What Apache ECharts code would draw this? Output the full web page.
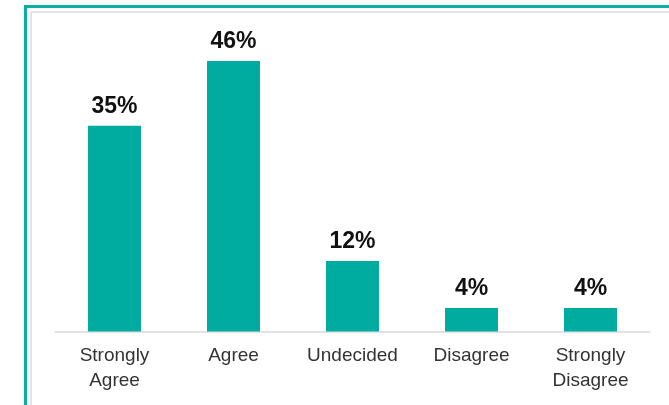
<!DOCTYPE html>
<html>
<head>
<meta charset="utf-8">
<script src="https://cdn.jsdelivr.net/npm/echarts@6/dist/echarts.min.js"></script>
<style>
  html, body { margin: 0; padding: 0; background: #fff; }
  #chart { width: 669px; height: 405px; }
</style>
</head>
<body>
<div id="chart"></div>
<script>
// Survey responses, share of respondents (%)
const categories = ['Strongly\nAgree', 'Agree', 'Undecided', 'Disagree', 'Strongly\nDisagree'];
const responseShares = [35, 46, 12, 4, 4];

const FONT = "'Liberation Sans', Arial, sans-serif";
const TEAL = '#00ab9f';

const chart = echarts.init(document.getElementById('chart'), null, { renderer: 'canvas' });

chart.setOption({
  backgroundColor: '#ffffff',
  animation: false,
  graphic: [
    {
      // outer teal frame
      type: 'rect',
      silent: true,
      shape: { x: 25.5, y: 6.5, width: 700, height: 500 },
      style: { fill: 'none', stroke: '#0aafa3', lineWidth: 3 }
    },
    {
      // inner light frame
      type: 'rect',
      silent: true,
      shape: { x: 31, y: 12, width: 700, height: 500 },
      style: { fill: 'none', stroke: '#dcdcdc', lineWidth: 1.5 }
    }
  ],
  grid: {
    left: 55,
    right: 19,
    top: 37.5,
    bottom: 73.5,
    containLabel: false
  },
  xAxis: {
    type: 'category',
    data: categories,
    axisLine: { show: true, lineStyle: { color: '#d9d9d9', width: 1.5 } },
    axisTick: { show: false },
    axisLabel: {
      color: '#333333',
      fontFamily: FONT,
      fontSize: 19,
      lineHeight: 25,
      margin: 12,
      interval: 0
    }
  },
  yAxis: {
    type: 'value',
    min: 0,
    max: 50,
    show: false,
    splitLine: { show: false }
  },
  series: [
    {
      type: 'bar',
      data: responseShares,
      barWidth: '44.5%',
      itemStyle: { color: TEAL },
      label: {
        show: true,
        position: 'top',
        distance: 8,
        formatter: '{c}%',
        color: '#111',
        fontFamily: FONT,
        fontWeight: 'bold',
        fontSize: 23
      }
    }
  ]
});
</script>
</body>
</html>
